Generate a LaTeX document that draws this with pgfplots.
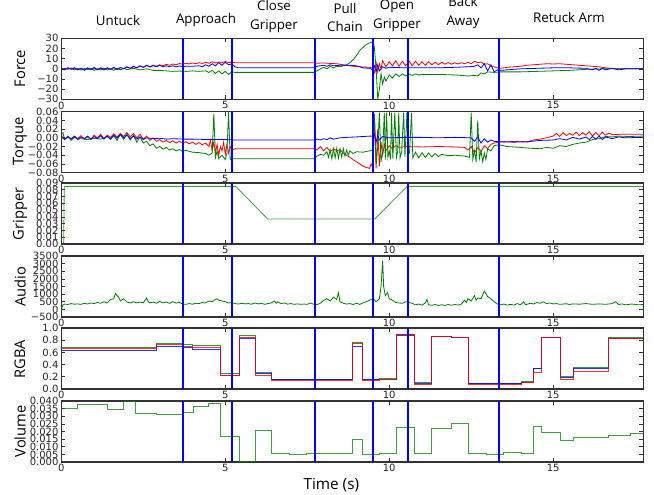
\documentclass[border=0pt]{standalone}
\usepackage{fontspec}
\setmainfont{Open Sans}
\newfontfamily\tickfont{DejaVu Sans}
\usepackage{pgfplots}
\pgfplotsset{compat=1.18}
\definecolor{mplgreen}{rgb}{0,0.5,0}
\definecolor{mplblue}{rgb}{0,0,1}
\definecolor{mplred}{rgb}{1,0,0}
\definecolor{framegray}{HTML}{333333}
\pgfplotsset{
  panel/.style={scale only axis, width=436.5pt, height=45.75pt,
    xmin=0, xmax=17.75, anchor=south west,
    scaled y ticks=false, scaled x ticks=false,
    xtick={0,5,10,15}, xticklabels={0,5,10,15},
    tick align=inside, major tick length=3pt,
    axis line style={framegray, line width=0.8pt},
    every tick/.style={framegray, line width=0.5pt},
    tick label style={font=\tickfont\fontsize{7.5}{8}\selectfont, text=black!85},
    xticklabel style={inner sep=1.5pt},
    yticklabel style={inner sep=2pt},
  },
  dl/.style={line width=0.6pt},
  vl/.style={mplblue, line width=1.5pt},
}
\newcommand\vlines[2]{%
  \addplot[vl] coordinates {(3.71,#1)(3.71,#2)};
  \addplot[vl] coordinates {(5.22,#1)(5.22,#2)};
  \addplot[vl] coordinates {(7.73,#1)(7.73,#2)};
  \addplot[vl] coordinates {(9.52,#1)(9.52,#2)};
  \addplot[vl] coordinates {(10.57,#1)(10.57,#2)};
  \addplot[vl] coordinates {(13.35,#1)(13.35,#2)};
}
\begin{document}
\begin{tikzpicture}
\useasboundingbox (0,0) rectangle (490.5pt,370.5pt);

% ---------------- Force ----------------
\begin{axis}[panel, at={(46pt,296pt)}, ymin=-30, ymax=30,
  ytick={-30,-20,-10,0,10,20,30}, yticklabels={−30,−20,−10,0,10,20,30}]
\addplot[dl, mplred] coordinates {
(0,0)(0.1,0.5)(0.2,-0.5)(0.3,0.8)(0.4,0.2)(0.5,-0.6)(0.6,0.4)(0.7,-0.3)(0.8,0.6)(0.9,-0.8)
(1.0,0.3)(1.1,-0.5)(1.2,0.9)(1.3,-0.4)(1.4,0.5)(1.5,-0.2)(1.6,1.0)(1.7,-0.3)(1.8,1.2)(1.9,0.2)
(2.0,1.5)(2.1,0.5)(2.2,2.0)(2.3,1.0)(2.4,2.8)(2.5,1.5)(2.6,3.2)(2.7,2.0)(2.8,3.6)(2.9,2.6)
(3.0,4.0)(3.1,3.0)(3.2,4.5)(3.3,3.5)(3.4,4.8)(3.5,4.0)(3.6,5.2)(3.7,4.5)(3.8,5.5)(3.9,4.8)
(4.0,5.8)(4.1,5.0)(4.2,6.0)(4.3,5.3)(4.4,6.5)(4.5,5.5)(4.6,7.0)(4.7,5.8)(4.8,6.8)(4.9,6.0)
(5.0,7.2)(5.1,6.2)(5.2,6.5)(5.3,6.0)(7.7,6.0)(7.8,5.5)(8.0,5.8)(8.2,5.3)(8.4,5.0)(8.6,4.0)
(8.8,3.0)(9.0,2.2)(9.2,1.8)(9.4,1.5)(9.5,0.5)(9.55,-4)(9.6,6)(9.65,-3)(9.7,5)(9.75,0)
(9.8,8)(9.9,2)(10.0,7)(10.1,3)(10.2,8)(10.3,2.5)(10.4,7.5)(10.5,3)(10.6,8)(10.7,3)
(10.8,7.5)(10.9,3.5)(11.0,7)(11.1,3.5)(11.2,7)(11.3,4)(11.4,6.5)(11.5,4)(11.6,6.5)(11.7,4.5)
(11.8,6.3)(11.9,4.5)(12.0,6)(12.1,4.8)(12.2,6)(12.3,5)(12.4,6.5)(12.5,5)(12.6,7.5)(12.7,6)
(12.8,6.8)(12.9,4.5)(13.0,5)(13.1,3)(13.2,2)(13.3,1)(13.4,0.5)(13.6,1.5)(13.8,2)(14.0,2.5)
(14.2,3.5)(14.4,4)(14.6,4.5)(14.8,5)(15.0,4.8)(15.2,5)(15.4,4.5)(15.6,4)(15.8,3.5)(16.0,3)
(16.2,2.5)(16.4,2)(16.6,1)(16.8,0.3)(17.0,0)(17.2,0.2)(17.4,0)(17.75,0)};
\addplot[dl, mplgreen] coordinates {
(0,0.5)(0.1,-0.5)(0.2,1)(0.3,0)(0.4,-1)(0.5,0.5)(0.6,-1.2)(0.7,0.3)(0.8,-0.8)(0.9,0.5)
(1.0,-1.5)(1.1,0)(1.2,-1)(1.3,0.8)(1.4,-1.2)(1.5,0.2)(1.6,-1.5)(1.7,0.5)(1.8,-1)(1.9,0.5)
(2.0,-0.8)(2.2,0.5)(2.4,-1)(2.6,0)(2.8,-1.5)(3.0,-1.5)(3.2,-2)(3.4,-2.5)(3.6,-2.2)(3.8,-2.5)
(4.0,-2)(4.2,-2.5)(4.4,-2)(4.5,-3.5)(4.6,-1.5)(4.7,-4.5)(4.8,-2)(4.9,-5)(5.0,-2.5)(5.1,-5.5)
(5.2,-3)(5.3,-3.5)(7.7,-3.5)(7.8,-2)(7.9,0)(8.0,1.5)(8.1,0)(8.2,2.5)(8.3,1)(8.4,2.5)
(8.5,2)(8.6,3)(8.7,4)(8.8,6)(8.9,9)(9.0,13)(9.1,18)(9.2,21)(9.3,24)(9.4,25.5)
(9.45,26)(9.52,26.5)(9.55,20)(9.6,0)(9.65,-30)(9.7,-20)(9.75,-5)(9.8,-15)(9.85,-8)(9.9,-12)
(10.0,-6)(10.1,-9)(10.2,-5)(10.3,-7.5)(10.4,-5)(10.5,-7)(10.6,-5)(10.7,-6.5)(10.8,-5)(10.9,-6)
(11.0,-5.5)(11.5,-5.5)(12.0,-6)(12.4,-7)(12.6,-6.5)(12.7,-7)(12.8,-4)(12.9,-5)(13.0,-3)(13.2,-3.5)
(13.4,-3)(14.0,-3)(14.5,-2.5)(15.0,-2)(15.5,-1.5)(16.0,-0.5)(16.5,0)(17.0,0)(17.75,0)};
\addplot[dl, mplblue] coordinates {
(0,0.5)(0.1,-1)(0.2,1)(0.3,-0.5)(0.4,1.2)(0.5,-1)(0.6,0.5)(0.7,-1.5)(0.8,1)(0.9,-0.8)
(1.0,1.5)(1.1,-1)(1.2,0.8)(1.3,-1.2)(1.4,1)(1.5,-0.5)(1.6,1.5)(1.7,-0.8)(1.8,1.2)(1.9,0)
(2.0,2)(2.1,0.5)(2.2,2.5)(2.3,1)(2.4,3)(2.5,1.5)(2.6,3.5)(2.7,1.8)(2.8,3.2)(2.9,2)
(3.0,3.5)(3.1,2)(3.2,3)(3.3,2.2)(3.4,3)(3.5,2)(3.6,2.8)(3.7,2.2)(3.8,2.5)(4.0,2.5)
(4.2,3)(4.3,2)(4.4,4)(4.5,2.5)(4.6,5)(4.7,3)(4.8,6)(4.9,3.5)(5.0,6.5)(5.1,4)
(5.2,5)(5.3,2)(5.4,1)(7.7,1)(7.8,2.5)(8.0,3.5)(8.1,2.5)(8.2,4)(8.3,3)(8.5,3.5)
(8.8,3.5)(9.0,3)(9.2,1)(9.4,0.5)(9.5,-1)(9.55,3)(9.6,-3)(9.65,4)(9.7,-2)(9.8,2)
(9.9,0.5)(10.0,1.5)(10.5,1)(11.0,1)(11.5,1)(12.0,1.5)(12.4,2)(12.6,2.5)(12.7,4)(12.8,1)
(12.9,5)(13.0,-2)(13.1,4)(13.2,-3)(13.3,-1)(13.4,-1.5)(14.0,0)(14.5,0.5)(15.0,1)(15.5,1)
(16.0,0.5)(16.2,-1)(16.3,0.5)(16.4,-1.5)(16.5,0.5)(16.6,-1)(16.8,0.5)(17.0,-1)(17.2,0)(17.5,0)(17.75,0)};
\vlines{-30}{30}
\end{axis}

% ---------------- Torque ----------------
\begin{axis}[panel, at={(46pt,241pt)}, ymin=-0.08, ymax=0.06,
  ytick={-0.08,-0.06,-0.04,-0.02,0,0.02,0.04,0.06},
  yticklabels={−0.08,−0.06,−0.04,−0.02,0.00,0.02,0.04,0.06}]
\addplot[dl, mplred] coordinates {
(0,0.002)(0.1,-0.004)(0.2,0.003)(0.3,-0.003)(0.4,0.004)(0.5,-0.002)(0.6,0.005)(0.7,-0.003)(0.8,0.002)(0.9,-0.004)
(1.0,0.006)(1.1,0.000)(1.2,0.008)(1.3,-0.002)(1.4,0.006)(1.5,0.001)(1.6,0.009)(1.7,0.002)(1.8,0.010)(1.9,0.003)
(2.0,0.012)(2.1,0.002)(2.2,0.010)(2.3,0.000)(2.4,0.008)(2.5,-0.003)(2.6,0.004)(2.7,-0.006)(2.8,0.000)(2.9,-0.008)
(3.0,-0.004)(3.1,-0.010)(3.2,-0.006)(3.3,-0.011)(3.4,-0.007)(3.5,-0.012)(3.6,-0.008)(3.7,-0.012)(3.8,-0.009)(3.9,-0.014)
(4.0,-0.010)(4.1,-0.015)(4.2,-0.011)(4.3,-0.016)(4.4,-0.012)(4.5,-0.020)(4.55,-0.005)(4.6,-0.030)(4.65,-0.010)(4.7,-0.035)
(4.75,-0.015)(4.8,-0.040)(4.85,-0.020)(4.9,-0.030)(4.95,-0.010)(5.0,-0.038)(5.05,-0.015)(5.1,-0.035)(5.15,-0.020)(5.2,-0.028)
(5.3,-0.025)(7.7,-0.025)(7.8,-0.028)(7.9,-0.020)(8.0,-0.030)(8.1,-0.022)(8.2,-0.032)(8.3,-0.025)(8.4,-0.030)(8.5,-0.027)
(8.6,-0.035)(8.7,-0.040)(8.8,-0.045)(8.9,-0.050)(9.0,-0.055)(9.1,-0.060)(9.2,-0.065)(9.3,-0.068)(9.4,-0.070)(9.45,-0.060)
(9.5,-0.070)(9.55,0.045)(9.6,-0.070)(9.65,0.020)(9.7,-0.065)(9.75,-0.010)(9.8,-0.040)(9.85,-0.015)(9.9,-0.030)(10.0,-0.018)
(10.1,-0.025)(10.2,-0.018)(10.3,-0.022)(10.5,-0.020)(11.0,-0.021)(11.5,-0.020)(12.0,-0.021)(12.3,-0.022)(12.4,-0.028)(12.5,-0.020)
(12.6,-0.035)(12.7,-0.022)(12.8,-0.032)(12.9,-0.018)(13.0,-0.025)(13.1,-0.015)(13.2,-0.012)(13.35,-0.010)(13.6,-0.009)(14.0,-0.008)
(14.2,-0.010)(14.4,-0.005)(14.6,-0.003)(14.8,0.000)(15.0,0.004)(15.1,0.010)(15.2,0.003)(15.3,0.012)(15.4,0.005)(15.5,0.010)
(15.6,0.006)(15.7,0.013)(15.8,0.005)(15.9,0.012)(16.0,0.006)(16.1,0.014)(16.2,0.004)(16.3,0.012)(16.4,0.005)(16.5,0.013)
(16.6,0.006)(16.7,0.011)(16.8,0.007)(17.0,0.008)(17.75,0.008)};
\addplot[dl, mplgreen] coordinates {
(0,0.008)(0.05,0.012)(0.1,-0.004)(0.2,0.004)(0.3,-0.006)(0.4,0.002)(0.5,-0.003)(0.6,-0.002)(0.8,-0.004)(1.0,-0.001)
(1.2,-0.003)(1.4,0.003)(1.5,-0.004)(1.6,0.005)(1.7,-0.006)(1.8,0.008)(1.9,-0.004)(2.0,0.010)(2.1,-0.005)(2.2,0.006)
(2.3,-0.010)(2.4,0.002)(2.5,-0.012)(2.6,-0.008)(2.7,-0.018)(2.8,-0.014)(2.9,-0.024)(3.0,-0.020)(3.1,-0.026)(3.2,-0.022)
(3.3,-0.028)(3.4,-0.025)(3.5,-0.030)(3.6,-0.027)(3.7,-0.031)(3.8,-0.029)(4.0,-0.033)(4.2,-0.034)(4.4,-0.036)(4.5,-0.040)
(4.6,-0.035)(4.65,0.055)(4.7,-0.045)(4.75,-0.030)(4.8,-0.048)(4.9,-0.040)(5.0,-0.050)(5.05,-0.035)(5.1,0.060)(5.15,-0.050)
(5.2,-0.048)(5.3,-0.048)(7.7,-0.048)(7.8,-0.042)(7.9,-0.038)(8.0,-0.040)(8.1,-0.032)(8.15,-0.045)(8.2,-0.028)(8.25,-0.048)
(8.3,-0.025)(8.35,-0.046)(8.4,-0.024)(8.45,-0.047)(8.5,-0.026)(8.55,-0.044)(8.6,-0.025)(8.65,-0.042)(8.7,-0.028)(8.75,-0.040)
(8.8,-0.030)(8.9,-0.036)(9.0,-0.032)(9.2,-0.033)(9.4,-0.030)(9.5,-0.028)(9.55,0.055)(9.6,-0.060)(9.65,-0.020)(9.70,0.058)
(9.75,-0.055)(9.8,-0.030)(9.85,0.058)(9.88,-0.050)(9.92,0.058)(9.96,-0.045)(10.0,-0.030)(10.04,-0.050)(10.07,0.058)(10.11,-0.048)
(10.17,0.058)(10.22,-0.045)(10.26,-0.030)(10.29,0.058)(10.33,-0.046)(10.38,-0.032)(10.44,0.058)(10.48,-0.044)(10.54,0.058)(10.58,-0.040)
(10.62,-0.034)(10.68,0.058)(10.72,-0.046)(10.8,-0.033)(10.9,-0.046)(11.0,-0.034)(11.1,-0.045)(11.2,-0.035)(11.3,-0.044)(11.4,-0.036)
(11.5,-0.043)(11.6,-0.038)(11.8,-0.041)(12.0,-0.040)(12.3,-0.042)(12.45,-0.045)(12.5,0.058)(12.55,-0.050)(12.6,-0.030)(12.65,-0.055)
(12.7,0.040)(12.75,-0.048)(12.8,-0.030)(12.85,-0.055)(12.9,-0.035)(12.95,-0.050)(13.0,-0.025)(13.1,-0.030)(13.2,-0.018)(13.35,-0.016)
(13.6,-0.020)(14.0,-0.022)(14.3,-0.024)(14.6,-0.025)(14.8,-0.022)(15.0,-0.024)(15.2,-0.018)(15.4,-0.020)(15.6,-0.015)(15.8,-0.012)
(16.0,-0.010)(16.2,-0.004)(16.4,-0.002)(16.6,0.003)(16.8,0.002)(17.0,0.004)(17.3,0.003)(17.75,0.004)};
\addplot[dl, mplblue] coordinates {
(0,0.004)(0.1,-0.003)(0.2,0.002)(0.3,-0.002)(0.4,0.003)(0.5,-0.004)(0.6,0.002)(0.7,-0.002)(0.8,0.004)(0.9,-0.003)
(1.0,0.003)(1.1,-0.002)(1.2,0.005)(1.3,-0.003)(1.4,0.004)(1.5,-0.002)(1.6,0.006)(1.7,-0.001)(1.8,0.008)(1.9,0.000)
(2.0,0.006)(2.1,-0.002)(2.2,0.004)(2.3,-0.003)(2.4,0.002)(2.5,-0.004)(2.6,0.000)(2.8,-0.002)(3.0,-0.001)(3.2,-0.003)
(3.4,-0.002)(3.7,-0.003)(4.0,-0.003)(4.5,-0.004)(5.0,-0.004)(5.3,-0.005)(7.7,-0.005)(7.8,-0.003)(7.9,-0.005)(8.0,-0.002)
(8.1,-0.004)(8.2,0.000)(8.3,-0.003)(8.5,0.000)(8.7,0.001)(9.0,0.002)(9.2,0.003)(9.45,0.004)(9.5,0.003)(9.55,0.008)
(9.6,-0.010)(9.65,0.006)(9.7,-0.005)(9.8,0.003)(10.0,0.000)(10.5,0.001)(11.0,0.001)(11.5,0.000)(12.0,0.001)(12.5,0.000)
(12.6,-0.008)(12.7,0.002)(12.8,-0.012)(12.9,-0.002)(13.0,-0.010)(13.1,-0.005)(13.2,-0.008)(13.35,-0.009)(13.8,-0.010)(14.2,-0.009)
(14.6,-0.006)(15.0,-0.005)(15.2,-0.002)(15.4,-0.005)(15.6,0.001)(15.8,-0.003)(16.0,0.002)(16.1,-0.004)(16.2,0.003)(16.3,-0.003)
(16.4,0.004)(16.5,-0.004)(16.6,0.002)(16.8,-0.002)(17.0,0.002)(17.2,0.000)(17.75,0.001)};
\vlines{-0.08}{0.06}
\end{axis}

% ---------------- Gripper ----------------
\begin{axis}[panel, at={(46pt,187.5pt)}, ymin=0, ymax=0.09,
  ytick={0,0.01,0.02,0.03,0.04,0.05,0.06,0.07,0.08,0.09},
  yticklabels={0.00,0.01,0.02,0.03,0.04,0.05,0.06,0.07,0.08,0.09}]
\addplot[dl, mplgreen, opacity=0.75] coordinates {
(0,0)(0.07,0)(0.09,0.085)(5.32,0.085)(6.29,0.037)(9.56,0.037)(10.55,0.085)(17.75,0.085)};
\vlines{0}{0.09}
\end{axis}

% ---------------- Audio ----------------
\begin{axis}[panel, at={(46pt,132.75pt)}, ymin=-500, ymax=3500,
  ytick={-500,0,500,1000,1500,2000,2500,3000,3500},
  yticklabels={−500,0,500,1000,1500,2000,2500,3000,3500}]
\addplot[dl, mplgreen] coordinates {
(0,0)(0.05,300)(0.1,350)(0.2,320)(0.3,380)(0.4,340)(0.5,360)(0.6,330)(0.7,400)(0.8,350)
(0.9,420)(1.0,380)(1.1,450)(1.2,400)(1.3,500)(1.4,420)(1.5,650)(1.6,700)(1.65,1050)(1.7,900)
(1.75,800)(1.8,550)(1.9,700)(2.0,480)(2.1,420)(2.2,500)(2.3,420)(2.4,480)(2.5,430)(2.6,750)
(2.65,500)(2.7,420)(2.8,480)(2.9,400)(3.0,520)(3.1,430)(3.2,480)(3.3,400)(3.4,500)(3.5,420)
(3.6,450)(3.7,350)(3.8,330)(3.9,380)(4.0,340)(4.1,400)(4.2,380)(4.3,450)(4.4,420)(4.5,550)
(4.6,500)(4.7,650)(4.75,700)(4.8,600)(4.9,550)(5.0,500)(5.1,420)(5.2,450)(5.3,380)(5.4,350)
(5.5,400)(5.6,360)(5.7,380)(5.8,340)(5.9,420)(6.0,360)(6.1,400)(6.2,330)(6.3,380)(6.4,420)
(6.5,550)(6.55,400)(6.6,500)(6.7,380)(6.8,420)(6.9,340)(7.0,380)(7.1,330)(7.2,360)(7.3,330)
(7.4,350)(7.5,330)(7.6,420)(7.7,330)(7.8,320)(7.9,400)(8.0,600)(8.1,700)(8.2,550)(8.3,800)
(8.4,650)(8.45,1100)(8.5,500)(8.6,400)(8.7,350)(8.8,380)(8.9,320)(9.0,400)(9.1,330)(9.2,420)
(9.3,500)(9.4,600)(9.5,700)(9.6,500)(9.7,700)(9.75,1500)(9.8,3200)(9.83,1500)(9.88,900)(9.95,1100)
(10.0,700)(10.1,600)(10.2,450)(10.3,420)(10.4,400)(10.5,500)(10.6,450)(10.7,400)(10.8,300)(10.9,350)
(11.0,280)(11.1,420)(11.15,650)(11.2,300)(11.3,270)(11.4,320)(11.5,260)(11.6,300)(11.7,260)(11.8,320)
(11.9,270)(12.0,320)(12.1,280)(12.2,350)(12.3,600)(12.35,450)(12.4,700)(12.5,550)(12.6,900)(12.65,600)
(12.7,750)(12.8,700)(12.9,1200)(13.0,850)(13.1,700)(13.2,500)(13.3,350)(13.4,300)(13.5,350)(13.6,280)
(13.7,330)(13.8,280)(13.9,380)(14.0,300)(14.1,500)(14.15,320)(14.2,330)(14.3,400)(14.4,350)(14.5,450)
(14.6,400)(14.7,500)(14.8,380)(14.9,420)(15.0,360)(15.1,380)(15.2,330)(15.4,370)(15.5,320)(15.6,360)
(15.8,340)(16.0,380)(16.2,330)(16.4,360)(16.6,330)(16.8,380)(16.9,500)(17.0,320)(17.1,360)(17.2,300)
(17.4,350)(17.6,300)(17.75,320)};
\vlines{-500}{3500}
\end{axis}

% ---------------- RGBA ----------------
\begin{axis}[panel, at={(46pt,78.75pt)}, ymin=0, ymax=1,
  ytick={0,0.2,0.4,0.6,0.8,1.0}, yticklabels={0.0,0.2,0.4,0.6,0.8,1.0}]
\addplot[dl, mplgreen, const plot, opacity=0.8] coordinates {
(0,0.69)(2.91,0.745)(3.71,0.73)(4.0,0.715)(4.86,0.25)(5.42,0.88)(5.92,0.27)(6.42,0.16)(8.87,0.76)(9.19,0.155)
(9.71,0.17)(10.22,0.89)(10.77,0.105)(11.28,0.87)(11.89,0.85)(12.41,0.094)(12.97,0.10)(14.04,0.12)(14.39,0.33)(14.65,0.84)
(15.23,0.21)(15.61,0.35)(16.69,0.84)(17.75,0.84)};
\addplot[dl, mplblue, const plot, opacity=0.8] coordinates {
(0,0.64)(2.91,0.695)(3.71,0.675)(4.0,0.655)(4.86,0.225)(5.42,0.83)(5.92,0.26)(6.42,0.15)(8.87,0.70)(9.19,0.15)
(9.71,0.16)(10.22,0.88)(10.77,0.10)(11.28,0.86)(11.89,0.845)(12.41,0.09)(14.04,0.115)(14.39,0.34)(14.65,0.84)(15.23,0.19)
(15.61,0.34)(16.69,0.83)(17.75,0.83)};
\addplot[dl, mplred, const plot, opacity=0.8] coordinates {
(0,0.665)(2.91,0.725)(3.71,0.70)(4.0,0.68)(4.86,0.215)(5.42,0.84)(5.92,0.215)(6.42,0.14)(8.87,0.75)(9.19,0.14)
(9.71,0.15)(10.22,0.89)(10.77,0.08)(11.28,0.86)(11.89,0.84)(12.41,0.083)(14.04,0.11)(14.39,0.27)(14.65,0.84)(15.23,0.16)
(15.61,0.29)(16.69,0.83)(17.75,0.83)};
\vlines{0}{1}
\end{axis}

% ---------------- Volume ----------------
\begin{axis}[panel, at={(46pt,24pt)}, ymin=0, ymax=0.04,
  ytick={0,0.005,0.01,0.015,0.02,0.025,0.03,0.035,0.04},
  yticklabels={0.000,0.005,0.010,0.015,0.020,0.025,0.030,0.035,0.040}]
\addplot[dl, mplgreen, const plot, opacity=0.75] coordinates {
(0,0.035)(0.49,0.0378)(1.0,0.0376)(1.40,0.0345)(1.89,0.040)(2.27,0.0321)(2.91,0.031)(3.71,0.0325)(4.02,0.0363)(4.48,0.0382)
(4.86,0.0166)(5.42,0.0002)(5.92,0.0208)(6.42,0.0057)(6.97,0.0048)(7.48,0.0054)(8.87,0.0146)(9.19,0.005)(9.71,0.0059)(10.22,0.0225)
(10.77,0.0059)(11.28,0.0219)(11.89,0.0254)(12.41,0.0057)(12.97,0.0052)(13.48,0.0063)(14.04,0.0057)(14.39,0.0232)(14.65,0.0197)(15.23,0.014)
(15.61,0.016)(16.69,0.0173)(17.35,0.0186)(17.75,0.0186)};
\vlines{0}{0.04}
\end{axis}

% ---------------- labels ----------------
\begin{scope}[every node/.style={font=\fontsize{11}{13}\selectfont, rotate=90}]
\node at (15pt,319pt) {Force};
\node at (15pt,264.3pt) {Torque};
\node at (15pt,210pt) {Gripper};
\node at (15pt,155.25pt) {Audio};
\node at (15pt,101.25pt) {RGBA};
\node at (15pt,46.9pt) {Volume};
\end{scope}
\node[font=\fontsize{11.5}{13}\selectfont] at (248.5pt,6.75pt) {Time (s)};
\begin{scope}[every node/.style={font=\fontsize{10}{14}\selectfont, align=center}]
\node at (88.5pt,354.75pt) {Untuck};
\node at (154.5pt,355.5pt) {Approach};
\node at (205.5pt,358.1pt) {Close\\Gripper};
\node at (258.75pt,357.4pt) {Pull\\Chain};
\node at (297.75pt,358.5pt) {Open\\Gripper};
\node at (347.25pt,361.1pt) {Back\\Away};
\node at (426.75pt,357pt) {Retuck Arm};
\end{scope}
\end{tikzpicture}
\end{document}
